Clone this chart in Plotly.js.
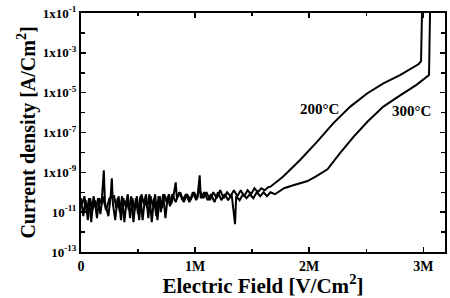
<!DOCTYPE html>
<html><head><meta charset="utf-8">
<script src="https://cdn.plot.ly/plotly-3.0.1.min.js"></script>
<style>html,body{margin:0;padding:0;background:#fff;}#chart{width:450px;height:298px;}</style>
</head><body><div id="chart"></div>
<script>
// Electric field in MV/cm (x), log10 of current density (y)
var field200 = [0.00,0.02,0.04,0.06,0.08,0.10,0.12,0.14,0.16,0.18,0.20,0.21,0.24,0.26,0.27,0.28,0.30,0.32,0.34,0.36,0.38,0.40,0.42,0.44,0.46,0.48,0.50,0.52,0.54,0.56,0.58,0.60,0.62,0.64,0.66,0.68,0.70,0.72,0.74,0.76,0.78,0.80,0.83,0.86,0.89,0.92,0.95,0.98,1.01,1.04,1.07,1.10,1.13,1.16,1.19,1.22,1.25,1.28,1.31,1.34,1.37,1.40,1.43,1.46,1.49,1.52,1.55,1.58,1.61,1.64,1.66,1.77,1.92,2.07,2.21,2.36,2.51,2.65,2.80,2.96,2.98,2.99];
var logJ200 = [-10.3,-11.2,-10.4,-11.4,-10.3,-10.9,-10.4,-11.3,-10.3,-10.6,-8.9,-10.5,-11.2,-10.2,-9.3,-10.6,-11.4,-10.3,-11.0,-10.2,-11.5,-10.4,-10.9,-10.2,-11.5,-10.3,-11.1,-10.2,-11.4,-10.3,-10.8,-10.1,-11.5,-10.3,-11.2,-10.2,-11.0,-10.1,-11.3,-10.2,-10.7,-10.1,-10.5,-10.0,-10.4,-10.1,-10.5,-10.0,-10.4,-9.9,-10.3,-10.0,-10.4,-10.0,-10.3,-9.9,-10.3,-10.0,-10.2,-9.9,-10.2,-9.9,-10.2,-9.9,-10.1,-9.8,-10.0,-9.8,-9.9,-9.75,-9.72,-9.22,-8.38,-7.46,-6.54,-5.70,-5.03,-4.53,-4.11,-3.56,-3.42,-0.5];

var field300 = [0.01,0.03,0.05,0.07,0.09,0.11,0.13,0.15,0.17,0.19,0.22,0.25,0.29,0.31,0.33,0.35,0.37,0.39,0.41,0.43,0.45,0.47,0.49,0.51,0.53,0.55,0.57,0.59,0.61,0.63,0.65,0.67,0.69,0.71,0.73,0.75,0.77,0.79,0.81,0.83,0.84,0.87,0.90,0.93,0.96,0.99,1.02,1.04,1.05,1.08,1.11,1.14,1.17,1.20,1.23,1.26,1.29,1.32,1.35,1.36,1.39,1.42,1.45,1.48,1.51,1.54,1.57,1.60,1.63,1.66,1.70,1.74,1.78,1.86,1.94,1.98,2.06,2.16,2.27,2.39,2.51,2.65,2.80,2.94,3.05,3.06];
var logJ300 = [-10.6,-10.2,-11.0,-10.3,-11.5,-10.2,-10.8,-10.3,-11.1,-10.2,-10.9,-10.3,-10.2,-10.8,-10.2,-11.4,-10.3,-10.7,-10.1,-11.3,-10.3,-10.9,-10.2,-11.4,-10.1,-10.6,-10.1,-11.3,-10.2,-10.7,-10.1,-11.4,-10.2,-10.8,-10.1,-10.5,-10.1,-10.6,-10.2,-9.5,-10.3,-10.0,-10.5,-10.1,-10.4,-10.0,-10.3,-9.15,-10.3,-10.0,-10.4,-10.1,-10.5,-10.0,-10.4,-10.1,-10.4,-10.1,-11.6,-10.2,-10.4,-10.1,-10.3,-10.1,-10.3,-10.0,-10.2,-10.0,-10.2,-10.0,-10.1,-9.95,-9.8,-9.65,-9.5,-9.45,-9.2,-8.85,-8.04,-7.21,-6.46,-5.70,-5.12,-4.61,-4.11,-0.5];

var xTickVals = [0, 1, 2, 3];
var xTickText = ['0', '1M', '2M', '3M'];
var yTickExp = [-1, -3, -5, -7, -9, -11, -13];
var yTickText = ['1x10<sup>-1</sup>','1x10<sup>-3</sup>','1x10<sup>-5</sup>','1x10<sup>-7</sup>','1x10<sup>-9</sup>','10<sup>-11</sup>','10<sup>-13</sup>'];
var seriesLabels = ['200°C', '300°C'];

function pow10(arr){ return arr.map(function(v){ return Math.pow(10, v); }); }
function scaleM(arr){ return arr.map(function(v){ return v * 1e6; }); }

var font = 'Liberation Serif, Times New Roman, serif';
var traces = [
  {x: scaleM(field200), y: pow10(logJ200), mode: 'lines', line: {color: '#000', width: 2}, name: seriesLabels[0]},
  {x: scaleM(field300), y: pow10(logJ300), mode: 'lines', line: {color: '#000', width: 2}, name: seriesLabels[1]}
];

var layout = {
  width: 450, height: 298,
  margin: {l: 81, r: 5, t: 13, b: 46},
  paper_bgcolor: '#fff', plot_bgcolor: '#fff',
  showlegend: false,
  font: {family: font, color: '#000'},
  xaxis: {
    range: [0, 3.19e6],
    tickmode: 'array', tickvals: scaleM(xTickVals), ticktext: xTickText,
    ticks: 'inside', ticklen: 5, tickwidth: 1.5, tickcolor: '#000',
    minor: {tickmode: 'array', tickvals: [0.5e6, 1.5e6, 2.5e6], ticks: 'inside', ticklen: 3, tickcolor: '#000'},
    showline: true, linecolor: '#000', linewidth: 2, mirror: 'ticks',
    showgrid: false, zeroline: false,
    tickfont: {family: font, size: 14, color: '#000', weight: 'bold'},
    title: {text: 'Electric Field [V/Cm<sup>2</sup>]', font: {family: font, size: 21, color: '#000', weight: 'bold'}, standoff: 2}
  },
  yaxis: {
    type: 'log', range: [-13, -1],
    tickmode: 'array', tickvals: pow10(yTickExp), ticktext: yTickText,
    ticks: 'inside', ticklen: 5, tickwidth: 1.5, tickcolor: '#000',
    minor: {tickmode: 'array', tickvals: pow10([-2,-4,-6,-8,-10,-12]), ticks: 'inside', ticklen: 4, tickcolor: '#000'},
    showline: true, linecolor: '#000', linewidth: 2, mirror: 'ticks',
    showgrid: false, zeroline: false,
    tickfont: {family: font, size: 13, color: '#000', weight: 'bold'},
    title: {text: 'Current density [A/Cm<sup>2</sup>]', font: {family: font, size: 20, color: '#000', weight: 'bold'}, standoff: 2}
  },
  annotations: [
    {x: 2.09e6, y: -5.82, text: seriesLabels[0], showarrow: false, font: {family: font, size: 15, color: '#000', weight: 'bold'}},
    {x: 2.90e6, y: -5.92, text: seriesLabels[1], showarrow: false, font: {family: font, size: 15, color: '#000', weight: 'bold'}}
  ]
};

Plotly.newPlot('chart', traces, layout, {staticPlot: true, displayModeBar: false});
</script>
</body></html>
